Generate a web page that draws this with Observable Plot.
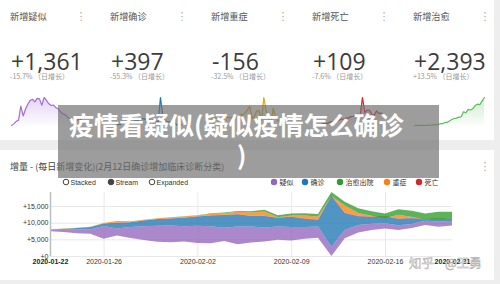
<!DOCTYPE html>
<html><head><meta charset="utf-8">
<script src="https://cdn.jsdelivr.net/npm/d3@7"></script>
<script src="https://cdn.jsdelivr.net/npm/@observablehq/plot@0.6"></script>
<style>
html,body{margin:0;padding:0}
body{width:500px;height:284px;overflow:hidden;background:#eeeeee;position:relative;font-family:"Noto Sans CJK SC","Liberation Sans",sans-serif}
.panel{position:absolute;background:#fff}
.layer{position:absolute;left:0;top:0}
</style></head><body>
<div class="panel" style="left:0;top:0;width:494px;height:140px"></div>
<div class="panel" style="left:0;top:150px;width:494px;height:130px"></div>
<div id="sparks"></div>
<div id="main" class="layer" style="top:185px"></div>
<div id="static" class="layer"></div>
<script>
// ---------- data ----------
const dates = ["2020-01-22","2020-01-23","2020-01-24","2020-01-25","2020-01-26","2020-01-27","2020-01-28","2020-01-29","2020-01-30","2020-01-31",
  "2020-02-01","2020-02-02","2020-02-03","2020-02-04","2020-02-05","2020-02-06","2020-02-07","2020-02-08","2020-02-09","2020-02-10",
  "2020-02-11","2020-02-12","2020-02-13","2020-02-14","2020-02-15","2020-02-16","2020-02-17","2020-02-18","2020-02-19","2020-02-20","2020-02-21"];
const suspected = [393,680,1118,1309,3806,2077,3248,4148,4812,5019,4562,5173,5072,3971,5328,4833,4214,3916,4008,3536,3342,2807,2450,2277,1918,1563,1432,1185,1277,1614,1361];
const confirmed = [131,259,444,688,769,1771,1459,1737,1982,2102,2590,2829,3235,3887,3694,3143,3399,2656,3062,2478,2015,15152,5090,2641,2009,2048,1886,1749,394,889,397];
const recovered = [3,6,3,11,2,9,43,21,47,72,85,147,157,262,261,387,510,600,632,716,744,1171,1081,1373,1323,1425,1701,1824,1779,2109,2393];
const severe = [44,82,60,87,137,515,263,131,157,268,315,186,492,431,640,962,1280,87,296,849,871,-174,2174,849,219,-628,1097,236,-113,-231,-156];
const deaths = [8,8,16,15,24,26,26,38,43,46,45,57,64,65,73,73,86,89,97,108,97,254,121,143,142,105,98,136,114,118,109];

const seriesNames = ["疑似","确诊","治愈出院","重症","死亡"];
const seriesColors = ["#9467bd","#1f77b4","#2ca02c","#ff7f0e","#d62728"];
const stackOrder = ["疑似","确诊","死亡","重症","治愈出院"];

const kpiTitles = ["新增疑似","新增确诊","新增重症","新增死亡","新增治愈"];
const kpiValues = ["+1,361","+397","-156","+109","+2,393"];
const kpiChanges = ["-15.7%","-55.3%","-32.5%","-7.6%","+13.5%"];
const kpiSeries = [suspected, confirmed, severe, deaths, recovered];
const kpiColors = ["#a46fd6","#1f77b4","#e0a91a","#d62728","#5cc05c"];

const yTicks = [0,5000,10000,15000];
const xTicks = ["2020-01-26","2020-02-02","2020-02-09","2020-02-16"];
const xEnds = ["2020-01-22","2020-02-21"];

const chartTitle = "增量 - (每日新增变化)(2月12日确诊增加临床诊断分类)";
const modes = ["Stacked","Stream","Expanded"];
const overlayLines = ["疫情看疑似(疑似疫情怎么确诊", ")"];
const watermark = ["知乎", "@王勇"];

// ---------- helpers ----------
const parse = d3.utcParse("%Y-%m-%d");
const fmtDate = d3.utcFormat("%Y-%m-%d");
const transparent = {background: "transparent", overflow: "visible"};

// ---------- sparklines ----------
const cardX = [10, 110, 211, 312, 413];
kpiSeries.forEach((vals, k) => {
  const data = vals.map((v, i) => ({date: parse(dates[i]), v}));
  const [lo, hi] = d3.extent(vals);
  const id = "grad" + k;
  const svg = Plot.plot({
    width: 76, height: 34, marginTop: 3, marginBottom: 3, marginLeft: 3, marginRight: 3,
    style: transparent,
    x: {type: "utc", axis: null},
    y: {domain: [lo, hi], axis: null},
    marks: [
      Plot.areaY(data, {x: "date", y1: lo, y2: "v", fill: `url(#${id})`}),
      Plot.lineY(data, {x: "date", y: "v", stroke: kpiColors[k], strokeWidth: 1.2})
    ]
  });
  const defs = d3.select(svg).insert("defs", ":first-child");
  const g = defs.append("linearGradient").attr("id", id).attr("x1", 0).attr("x2", 0).attr("y1", 0).attr("y2", 1);
  g.append("stop").attr("offset", "0%").attr("stop-color", kpiColors[k]).attr("stop-opacity", 0.3);
  g.append("stop").attr("offset", "100%").attr("stop-color", kpiColors[k]).attr("stop-opacity", 0.03);
  svg.style.position = "absolute";
  svg.style.left = (cardX[k] - 2) + "px";
  svg.style.top = "94px";
  document.getElementById("sparks").appendChild(svg);
});

// ---------- stream chart ----------
const rows = dates.map((d, i) => ({date: parse(d), "疑似": suspected[i], "确诊": confirmed[i], "治愈出院": recovered[i], "重症": severe[i], "死亡": deaths[i]}));
const stacked = d3.stack().keys(stackOrder).offset(d3.stackOffsetWiggle)(rows);
const shift = d3.min(stacked[0], p => p[0]);
const table = stacked.flatMap(s => s.map(p => ({date: p.data.date, key: s.key, y1: p[0] - shift, y2: p[1] - shift})));
const yMax = d3.max(table, d => Math.max(d.y1, d.y2));

const main = Plot.plot({
  width: 500, height: 95, marginTop: 7, marginBottom: 24, marginLeft: 50, marginRight: 48,
  style: transparent,
  x: {type: "utc", domain: [parse(dates[0]), parse(dates[dates.length - 1])], axis: null},
  y: {domain: [0, yMax], axis: null},
  color: {domain: seriesNames, range: seriesColors},
  marks: [
    Plot.ruleY(yTicks, {stroke: "#e8e8e8"}),
    Plot.ruleX(xTicks.map(parse), {stroke: "#e8e8e8"}),
    Plot.areaY(table, {x: "date", y1: "y1", y2: "y2", z: "key", fill: "key", fillOpacity: 0.78}),
    Plot.ruleX([parse(dates[0])], {stroke: "#bdbdbd", strokeWidth: 1.5}),
    Plot.text(yTicks, {frameAnchor: "left", y: d => d, text: d => "+" + d3.format(",")(d), textAnchor: "end", dx: -2, fontSize: 7, fill: "#333", fontFamily: "Liberation Sans"}),
    Plot.text(xTicks.map(parse), {x: d => d, frameAnchor: "bottom", dy: 7, text: d => fmtDate(d), fontSize: 7, fill: "#333", fontFamily: "Liberation Sans"}),
    Plot.text(xEnds.map(parse), {x: d => d, frameAnchor: "bottom", dy: 7, text: d => fmtDate(d), fontSize: 7, fill: "#222", fontWeight: "bold", fontFamily: "Liberation Sans"})
  ]
});
document.getElementById("main").appendChild(main);

// ---------- static texts ----------
const st = d3.select("#static").append("svg").attr("width", 500).attr("height", 284)
  .style("font-family", '"Noto Sans CJK SC","Liberation Sans",sans-serif');
const dotsX = [81, 182, 283, 384, 485];
kpiTitles.forEach((t, k) => {
  st.append("text").attr("x", cardX[k]).attr("y", 19.5).attr("font-size", 9.2).attr("fill", "#555").text(t);
  st.append("text").attr("x", dotsX[k]).attr("y", 20).attr("font-size", 11).attr("fill", "#aaa").attr("text-anchor", "middle").attr("font-family", "DejaVu Sans").text("⋮");
  st.append("text").attr("x", cardX[k] + 1).attr("y", 70).attr("font-size", 23).attr("fill", "#3c3c3c").attr("font-family", "Open Sans").text(kpiValues[k]);
  st.append("text").attr("x", cardX[k]).attr("y", 78.5).attr("font-size", 7).attr("fill", "#999").text(kpiChanges[k] + " （日增长）");
});

st.append("text").attr("x", 10).attr("y", 169.5).attr("font-size", 9).attr("fill", "#444").text(chartTitle);
st.append("text").attr("x", 485).attr("y", 170).attr("font-size", 11).attr("fill", "#aaa").attr("text-anchor", "middle").attr("font-family", "DejaVu Sans").text("⋮");

const modeX = [66, 111, 152];
modes.forEach((m, i) => {
  st.append("circle").attr("cx", modeX[i]).attr("cy", 182).attr("r", 2.8)
    .attr("fill", i === 1 ? "#444" : "#fff").attr("stroke", "#444").attr("stroke-width", 1);
  st.append("text").attr("x", modeX[i] + 4.5).attr("y", 184.6).attr("font-size", 7).attr("fill", "#333").attr("font-family", "Liberation Sans").text(m);
});
const legX = [274, 305, 340, 387, 419];
seriesNames.forEach((s, i) => {
  st.append("circle").attr("cx", legX[i]).attr("cy", 182).attr("r", 3.2).attr("fill", seriesColors[i]);
  st.append("text").attr("x", legX[i] + 5.5).attr("y", 184.6).attr("font-size", 7).attr("fill", "#333").text(s);
});

// overlay box
st.append("rect").attr("x", 58).attr("y", 105).attr("width", 381).attr("height", 73).attr("fill", "rgba(110,110,110,0.68)");
st.append("text").attr("x", 69).attr("y", 134.5).attr("font-size", 25).attr("font-weight", "bold").attr("fill", "#fff").text(overlayLines[0]);
st.append("text").attr("x", 237).attr("y", 165).attr("font-size", 25).attr("font-weight", "bold").attr("fill", "#fff").text(overlayLines[1]);

// watermark
st.append("text").attr("x", 409).attr("y", 268).attr("font-size", 12.5).attr("fill", "rgba(255,255,255,0.9)").attr("stroke", "#aaa").attr("stroke-width", 0.5).text(watermark[0]);
st.append("text").attr("x", 445).attr("y", 268).attr("font-size", 12.5).attr("fill", "rgba(255,255,255,0.9)").attr("stroke", "#aaa").attr("stroke-width", 0.5).text(watermark[1]);
</script>
</body></html>
